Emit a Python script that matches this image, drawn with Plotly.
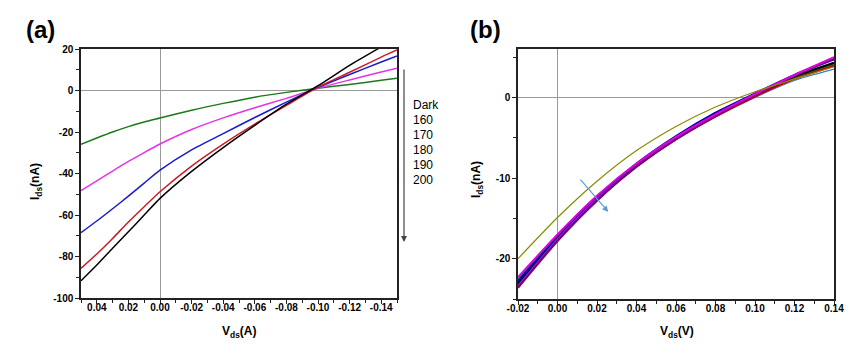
import plotly.graph_objects as go

# ---------------- Panel (a) data ----------------
vds_a = [0.05, 0.04, 0.03, 0.02, 0.01, 0.00, -0.02, -0.04, -0.06, -0.08, -0.10, -0.12, -0.14, -0.15]
ids_green = [-25.9, -22.9, -20.0, -17.4, -15.2, -13.3, -9.5, -6.2, -3.2, -0.9, 1.1, 2.9, 4.9, 5.9]
ids_magenta = [-48.3, -43.6, -38.8, -34.2, -29.9, -25.8, -18.8, -13.2, -8.3, -3.8, 1.1, 5.1, 8.9, 10.7]
ids_blue = [-68.5, -62.9, -57.0, -50.9, -44.6, -38.4, -28.6, -20.8, -13.0, -5.6, 1.5, 7.7, 13.7, 16.6]
ids_red = [-85.7, -78.8, -71.3, -63.4, -56.0, -48.8, -36.4, -25.8, -16.2, -7.2, 1.6, 8.8, 16.1, 19.5]
ids_black = [-91.7, -84.1, -76.0, -68.1, -60.0, -52.0, -39.0, -27.5, -16.8, -6.6, 2.3, 12.1, 21.0, 25.4]

legend_labels = ["Dark", "160", "170", "180", "190", "200"]

xtick_a_vals = [0.04, 0.02, 0.00, -0.02, -0.04, -0.06, -0.08, -0.10, -0.12, -0.14]
xtick_a_text = ["0.04", "0.02", "0.00", "-0.02", "-0.04", "-0.06", "-0.08", "-0.10", "-0.12", "-0.14"]
ytick_a_vals = [20, 0, -20, -40, -60, -80, -100]
ytick_a_text = ["20", "0", "-20", "-40", "-60", "-80", "-100"]

# ---------------- Panel (b) data ----------------
vds_b = [-0.02, 0.00, 0.02, 0.04, 0.06, 0.08, 0.10, 0.12, 0.14]
ids_b_olive = [-20.0, -14.9, -10.4, -6.6, -3.6, -1.2, 0.7, 2.3, 3.8]
ids_b_magenta = [-22.3, -17.0, -12.2, -8.2, -4.9, -2.1, 0.4, 2.8, 5.0]
ids_b_purple = [-23.6, -17.8, -12.8, -8.6, -5.2, -2.3, 0.3, 2.7, 4.8]
ids_b_black = [-23.1, -17.5, -12.6, -8.4, -5.0, -2.1, 0.4, 2.6, 4.3]
ids_b_red = [-23.3, -17.6, -12.7, -8.6, -5.2, -2.4, 0.1, 2.3, 3.9]
ids_b_blue = [-22.8, -17.2, -12.3, -8.2, -4.8, -1.9, 0.5, 2.8, 4.7]
ids_b_green = [-22.9, -17.3, -12.4, -8.4, -5.0, -2.2, 0.3, 2.5, 4.2]
ids_b_teal = [-22.6, -17.1, -12.3, -8.3, -5.0, -2.2, 0.2, 2.4, 4.0]
ids_b_steel = [-22.5, -17.1, -12.4, -8.5, -5.2, -2.4, 0.0, 2.1, 3.5]
ids_b_violet = [-23.4, -17.6, -12.6, -8.5, -5.1, -2.2, 0.4, 2.7, 4.9]

xtick_b_vals = [-0.02, 0.00, 0.02, 0.04, 0.06, 0.08, 0.10, 0.12, 0.14]
xtick_b_text = ["-0.02", "0.00", "0.02", "0.04", "0.06", "0.08", "0.10", "0.12", "0.14"]
ytick_b_vals = [0, -10, -20]
ytick_b_text = ["0", "-10", "-20"]

# arrow in panel (b) (data coords: tail -> head)
arrow_b_tail = (0.011, -10.0)
arrow_b_head = (0.0257, -14.2)

FONT = "Arial, Liberation Sans, sans-serif"

fig = go.Figure()

series_a = [
    ("Dark", ids_green, "#1a7a1a"),
    ("160", ids_magenta, "#e633e6"),
    ("170", ids_blue, "#1a1acc"),
    ("180", ids_red, "#cc1a2a"),
    ("190", ids_black, "#000000"),
]
for name, ys, col in series_a:
    fig.add_trace(go.Scatter(x=vds_a, y=ys, mode="lines", name=name,
                             line=dict(color=col, width=1.5, shape="spline", smoothing=0.6),
                             xaxis="x", yaxis="y", showlegend=False))

series_b = [
    (ids_b_steel, "#3a7fc0", 1.2),
    (ids_b_teal, "#008080", 1.6),
    (ids_b_green, "#006a00", 1.8),
    (ids_b_red, "#c00000", 1.8),
    (ids_b_black, "#000000", 2.2),
    (ids_b_blue, "#0000b0", 2.0),
    (ids_b_violet, "#8a2be2", 2.0),
    (ids_b_purple, "#7a007a", 2.2),
    (ids_b_magenta, "#e000e0", 2.0),
    (ids_b_olive, "#8a8a00", 1.2),
]
for ys, col, w in series_b:
    fig.add_trace(go.Scatter(x=vds_b, y=ys, mode="lines",
                             line=dict(color=col, width=w, shape="spline", smoothing=0.6),
                             xaxis="x2", yaxis="y2", showlegend=False))

W, H = 855, 355
L, R, T, B = 81, 21, 49, 56
pw = W - L - R
ph = H - T - B


def px_x(x):
    return (x - L) / pw


def px_y(y):
    return (H - B - y) / ph


axis_common = dict(showline=True, linecolor="#222", linewidth=1.5, mirror=True,
                   ticks="outside", ticklen=4, tickwidth=1, tickcolor="#222",
                   showgrid=False, zeroline=True, zerolinecolor="#9a9a9a", zerolinewidth=1,
                   tickfont=dict(family=FONT, size=10, color="black", weight="bold"),
                   tickmode="array", automargin=False)

fig.update_layout(
    width=W, height=H, margin=dict(l=L, r=R, t=T, b=B, autoexpand=False),
    paper_bgcolor="white", plot_bgcolor="white",
    font=dict(family=FONT, color="black"),
    xaxis=dict(axis_common, domain=[0, px_x(397)], range=[0.05, -0.15],
               tickvals=xtick_a_vals, ticktext=xtick_a_text,
               minor=dict(ticks="outside", ticklen=3, dtick=0.01, tick0=0, tickcolor="#222"),
               anchor="y"),
    yaxis=dict(axis_common, domain=[px_y(298), 1], range=[-100, 20],
               tickvals=ytick_a_vals, ticktext=ytick_a_text,
               minor=dict(ticks="outside", ticklen=3, dtick=10, tick0=0, tickcolor="#222"),
               anchor="x"),
    xaxis2=dict(axis_common, domain=[px_x(518), 1], range=[-0.02, 0.14],
                tickvals=xtick_b_vals, ticktext=xtick_b_text,
                minor=dict(ticks="outside", ticklen=3, dtick=0.01, tick0=0, tickcolor="#222"),
                anchor="y2"),
    yaxis2=dict(axis_common, domain=[0, 1], range=[-25, 6],
                tickvals=ytick_b_vals, ticktext=ytick_b_text,
                minor=dict(ticks="outside", ticklen=3, dtick=5, tick0=0, tickcolor="#222"),
                anchor="x2"),
)

# pull x tick labels a little closer to the axis
try:
    fig.update_xaxes(ticklabelstandoff=-5)
except Exception:
    pass

title_font = dict(family=FONT, size=12, color="black")
annotations = [
    dict(text="<b>(a)</b>", x=px_x(24), y=px_y(30), xref="paper", yref="paper",
         xanchor="left", yanchor="middle", showarrow=False,
         font=dict(family=FONT, size=24, color="black")),
    dict(text="<b>(b)</b>", x=px_x(468), y=px_y(30), xref="paper", yref="paper",
         xanchor="left", yanchor="middle", showarrow=False,
         font=dict(family=FONT, size=24, color="black")),
    # axis titles
    dict(text="<b>V<sub>ds</sub>(A)</b>", x=px_x(239), y=px_y(332), xref="paper", yref="paper",
         xanchor="center", yanchor="middle", showarrow=False, font=title_font),
    dict(text="<b>V<sub>ds</sub>(V)</b>", x=px_x(677), y=px_y(332), xref="paper", yref="paper",
         xanchor="center", yanchor="middle", showarrow=False, font=title_font),
    dict(text="<b>I<sub>ds</sub>(nA)</b>", x=px_x(36), y=px_y(182), xref="paper", yref="paper",
         xanchor="center", yanchor="middle", showarrow=False, textangle=-90, font=title_font),
    dict(text="<b>I<sub>ds</sub>(nA)</b>", x=px_x(477), y=px_y(180), xref="paper", yref="paper",
         xanchor="center", yanchor="middle", showarrow=False, textangle=-90, font=title_font),
    # vertical arrow beside the legend in panel (a)
    dict(text="", x=px_x(404), y=px_y(242), xref="paper", yref="paper",
         ax=0, ay=-(242 - 68), showarrow=True, arrowhead=2, arrowsize=1,
         arrowwidth=1.2, arrowcolor="#444"),
    # arrow in panel (b)
    dict(text="", x=arrow_b_head[0], y=arrow_b_head[1], xref="x2", yref="y2",
         ax=arrow_b_tail[0], ay=arrow_b_tail[1], axref="x2", ayref="y2",
         showarrow=True, arrowhead=2, arrowsize=1, arrowwidth=1.2, arrowcolor="#5b9bd5"),
]
for i, lab in enumerate(legend_labels):
    annotations.append(dict(text=lab, x=px_x(411), y=px_y(105 + 15 * i),
                            xref="paper", yref="paper", xanchor="left", yanchor="middle",
                            showarrow=False, font=dict(family=FONT, size=12, color="black")))
fig.update_layout(annotations=annotations)

fig.write_html("out.html", config={"displayModeBar": False},
               post_script="document.body.style.margin='0';")
